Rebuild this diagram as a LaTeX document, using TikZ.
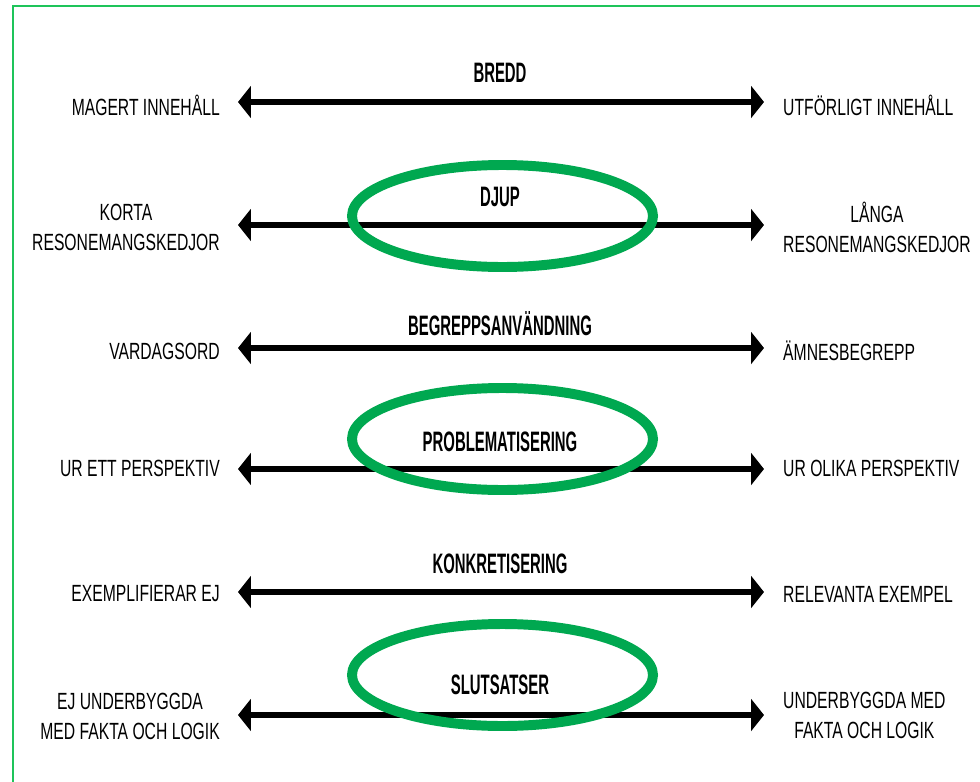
\documentclass[tikz,border=0pt]{standalone}
\usepackage{fontspec}
\setmainfont{Liberation Sans}
\newfontfamily\polefont{Liberation Sans}[FakeStretch=0.67]
\newfontfamily\headfont{Liberation Sans}[FakeStretch=0.53]
\usetikzlibrary{arrows.meta}
\definecolor{ringgreen}{RGB}{0,168,80}
\definecolor{framegreen}{RGB}{30,196,90}

\begin{document}
\begin{tikzpicture}[x=0.03cm, y=-0.03cm,
  pole/.style={font=\polefont\fontsize{20}{25.6}\selectfont, align=center, inner sep=0pt},
  heading/.style={font=\headfont\bfseries\fontsize{24}{28}\selectfont, inner sep=0pt},
  scalearrow/.style={line width=5.5pt, {Triangle[length=11pt,width=27pt]}-{Triangle[length=11pt,width=27pt]}},
  ring/.style={draw=ringgreen, line width=8.5pt}]

\useasboundingbox (0,0) rectangle (980,781);

% frame
\draw[framegreen, line width=1.2pt] (13,800) -- (13,6) -- (1000,6);

% bredd
\node[heading] (bredd) at (500,73) {BREDD};
\coordinate (l1) at (238,102);
\coordinate (r1) at (764,102);
\draw[scalearrow] (l1) -- (r1);
\node[pole, anchor=east] (magert) at (220,105) {MAGERT INNEHÅLL};
\node[pole, anchor=west] (utforligt) at (783,105) {UTFÖRLIGT INNEHÅLL};

% djup
\node[heading] (djup) at (500,197) {DJUP};
\coordinate (l2) at (238,225);
\coordinate (r2) at (764,225);
\draw[scalearrow] (l2) -- (r2);
\node[pole, anchor=east] (korta) at (220,227) {KORTA\\RESONEMANGSKEDJOR};
\node[pole, anchor=west] (langa) at (783,227) {LÅNGA\\RESONEMANGSKEDJOR};
\draw[ring] (502.5,216) ellipse (150.5 and 51);

% begreppsanvandning
\node[heading] (begrepp) at (500,324) {BEGREPPSANVÄNDNING};
\coordinate (l3) at (238,348);
\coordinate (r3) at (764,348);
\draw[scalearrow] (l3) -- (r3);
\node[pole, anchor=east] (vardag) at (220,351) {VARDAGSORD};
\node[pole, anchor=west] (amnes) at (783,351) {ÄMNESBEGREPP};

% problematisering
\node[heading] (problem) at (500,442) {PROBLEMATISERING};
\coordinate (l4) at (238,469);
\coordinate (r4) at (764,469);
\draw[scalearrow] (l4) -- (r4);
\node[pole, anchor=east] (ettpersp) at (220,468) {UR ETT PERSPEKTIV};
\node[pole, anchor=west] (olikapersp) at (783,468) {UR OLIKA PERSPEKTIV};
\draw[ring] (502.5,439) ellipse (150.5 and 51);

% konkretisering
\node[heading] (konkret) at (500,564) {KONKRETISERING};
\coordinate (l5) at (238,592);
\coordinate (r5) at (764,592);
\draw[scalearrow] (l5) -- (r5);
\node[pole, anchor=east] (exejbox) at (220,594) {EXEMPLIFIERAR EJ};
\node[pole, anchor=west] (relevanta) at (783,594) {RELEVANTA EXEMPEL};

% slutsatser
\node[heading] (slutsats) at (500,685) {SLUTSATSER};
\coordinate (l6) at (238,715);
\coordinate (r6) at (764,715);
\draw[scalearrow] (l6) -- (r6);
\node[pole, anchor=east] (ejunder) at (220,716) {EJ UNDERBYGGDA\\MED FAKTA OCH LOGIK};
\node[pole, anchor=west] (under) at (783,715) {UNDERBYGGDA MED\\FAKTA OCH LOGIK};
\draw[ring] (502.5,675) ellipse (150.5 and 51);

\end{tikzpicture}
\end{document}
